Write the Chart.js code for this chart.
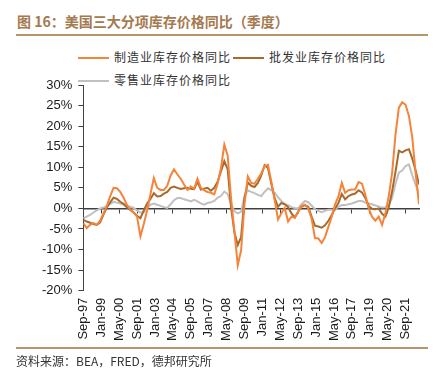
<!DOCTYPE html>
<html>
<head>
<meta charset="utf-8">
<script src="https://cdn.jsdelivr.net/npm/chart.js@4.4.1/dist/chart.umd.min.js"></script>
<style>
    body { margin: 0; background: #fff; width: 442px; height: 382px; position: relative; overflow: hidden; font-family: "Noto Sans CJK SC", sans-serif; }
    .title { position: absolute; left: 17px; top: 12px; font-size: 14px; line-height: 19px; font-weight: bold; color: #a47a50; white-space: nowrap; }
    .rule { position: absolute; left: 16px; width: 412px; height: 2px; background: #b8946e; }
    .legend-item { position: absolute; height: 16px; font-size: 12px; line-height: 16px; color: #333; letter-spacing: 1px; white-space: nowrap; }
    .legend-item span { display: inline-block; width: 31px; height: 2px; vertical-align: middle; margin-right: 5px; position: relative; top: -1px; }
    .source { position: absolute; left: 16px; top: 353px; font-size: 12px; line-height: 16px; color: #333; white-space: nowrap; }
    #chart-wrap { position: absolute; left: 0; top: 40px; width: 442px; height: 308px; }
</style>
</head>
<body>
<div class="title">图 16：美国三大分项库存价格同比（季度）</div>
<div class="rule" style="top:34px"></div>

<div class="legend-item" style="left:78px; top:49px"><span style="background:#f5843a"></span>制造业库存价格同比</div>
<div class="legend-item" style="left:233px; top:49px"><span style="background:#a8692c"></span>批发业库存价格同比</div>
<div class="legend-item" style="left:78px; top:72px"><span style="background:#c0c0c0"></span>零售业库存价格同比</div>

<div id="chart-wrap"><canvas id="inv-chart" width="442" height="308"></canvas></div>

<div class="rule" style="top:347px"></div>
<div class="source">资料来源：BEA，FRED，德邦研究所</div>

<script>
// quarterly, starting Sep-97 (Q3 1997), one value per quarter
const manufacturing = [
    -3.6, -4.8, -4.0, -3.6, -4.0, -3.0, -1.2, 0.6, 3.0, 5.0,
    4.9, 4.0, 2.6, 0.8, -0.3, -1.0, -2.0, -6.8, -3.8, -0.5,
    3.5, 7.4, 5.0, 4.5, 4.5, 5.5, 8.0, 9.5, 8.3, 7.2,
    5.8, 4.5, 5.3, 4.8, 7.2, 5.0, 4.4, 4.0, 3.8, 3.4,
    6.0, 9.8, 15.5, 12.8, 2.5, -5.5, -13.8, -10.2, 1.0, 7.8,
    6.2, 6.0, 7.2, 8.5, 10.3, 10.6, 6.5, 2.0, -2.7, -1.2,
    0.1, -3.2, -2.0, -2.3, -0.8, 0.6, 0.9, 0.0, -2.5, -7.2,
    -7.3, -8.4, -7.0, -4.5, -2.0, 1.0, 2.9, 6.2, 3.8, 4.4,
    4.6, 4.6, 6.4, 6.0, 3.4, 0.0, -2.0, -3.0, -2.0, -4.0,
    -1.2, 3.0, 8.7, 18.0, 24.5, 25.8, 25.2, 22.5, 17.2, 8.5,
    1.0
];
const wholesale = [
    -2.8, -3.2, -3.5, -3.8, -4.0, -3.4, -1.5, 0.2, 1.5, 2.6,
    2.3, 1.6, 1.1, 0.2, -0.4, -1.0, -1.8, -2.4, -0.5, 1.2,
    2.3, 3.7, 2.9, 3.0, 3.6, 4.0, 5.0, 5.3, 5.0, 4.7,
    4.9, 5.0, 4.8, 4.7, 6.5, 4.6, 4.8, 5.0, 4.3, 5.0,
    6.5, 9.0, 11.5, 9.5, 0.3, -5.8, -8.9, -7.0, 2.5, 6.3,
    5.5, 5.2, 6.2, 8.0, 10.5, 9.8, 6.0, 2.5, 0.4, 1.3,
    1.0, 0.3, -1.2, -2.2, -0.8, 0.4, 0.8, 0.4, -2.0, -4.2,
    -4.4, -4.7, -4.1, -3.0, -1.6, 0.0, 1.3, 3.5, 2.2, 3.0,
    3.4, 3.6, 4.4, 3.9, 2.5, 0.6, -0.1, -0.2, 0.0, -1.3,
    -2.0, 0.3, 4.2, 8.9, 14.0, 13.6, 14.1, 14.4, 12.1, 9.2,
    5.8
];
const retail = [
    -2.4, -2.0, -1.6, -1.0, -0.5, 0.0, 0.2, 0.6, 1.1, 1.6,
    1.4, 1.2, 0.9, 0.6, 0.4, 0.1, -0.5, -1.0, -1.0, 0.1,
    0.9, 1.2, 0.9, 0.6, 0.3, 0.1, 1.0, 2.0, 2.5, 2.5,
    2.2, 2.0, 1.7, 2.1, 1.7, 1.2, 0.9, 1.3, 1.5, 1.8,
    2.6, 3.0, 4.1, 3.5, 1.0, -0.7, -1.2, -0.8, 3.0, 4.4,
    4.0, 3.7, 3.3, 3.0, 4.0, 4.9, 4.4, 3.8, 2.7, 1.8,
    1.1, 0.8, 0.3, 0.1, 0.0, 1.0, 1.8, 1.5, 0.7, -0.2,
    -0.6, -0.9, -0.6, -0.3, -0.3, -0.3, 0.4, 0.8, 0.8, 1.0,
    1.2, 1.5, 1.8, 1.8, 1.4, 1.2, 1.0, 0.7, 0.5, 0.2,
    0.3, 0.8, 2.6, 6.0, 8.7, 9.2, 10.3, 10.7, 8.0, 5.7,
    3.6
];

// x tick labels, one every 16 months from Sep-97
const tickLabels = ['Sep-97', 'Jan-99', 'May-00', 'Sep-01', 'Jan-03', 'May-04', 'Sep-05', 'Jan-07', 'May-08',
    'Sep-09', 'Jan-11', 'May-12', 'Sep-13', 'Jan-15', 'May-16', 'Sep-17', 'Jan-19', 'May-20', 'Sep-21'];
const TICK_STEP = 16;   // months between labels
const LAST_MONTH = 300; // Sep-22, months after Sep-97

const tickFont = { family: "'Liberation Sans', Arial, sans-serif", size: 13 };
const axisColor = '#404040';

function toPoints(values) {
    return values.map((v, i) => ({ x: i * 3, y: v }));
}

function setMonthTicks(scale) {
    scale.ticks = tickLabels.map((_, i) => ({ value: i * TICK_STEP }));
}

new Chart(document.getElementById('inv-chart').getContext('2d'), {
    type: 'line',
    data: {
        datasets: [
            { label: '制造业库存价格同比', data: toPoints(manufacturing), borderColor: '#f5843a', borderWidth: 2 },
            { label: '批发业库存价格同比', data: toPoints(wholesale), borderColor: '#a8692c', borderWidth: 2 },
            { label: '零售业库存价格同比', data: toPoints(retail), borderColor: '#c0c0c0', borderWidth: 2 }
        ]
    },
    options: {
        responsive: false,
        animation: false,
        elements: { point: { radius: 0 }, line: { tension: 0 } },
        layout: { padding: { left: 36, right: 23, top: 45, bottom: 0 } },
        plugins: { legend: { display: false }, tooltip: { enabled: false } },
        scales: {
            x: {
                type: 'linear', min: 0, max: LAST_MONTH,
                afterBuildTicks: setMonthTicks,
                grid: { display: false, drawTicks: false },
                border: { display: false },
                ticks: {
                    autoSkip: false, minRotation: 90, maxRotation: 90,
                    padding: 7, font: tickFont, color: '#1a1a1a',
                    callback: v => tickLabels[Math.round(v / TICK_STEP)]
                }
            },
            // zero line with small tick marks
            x2: {
                type: 'linear', min: 0, max: LAST_MONTH,
                position: { y: 0 },
                afterBuildTicks: setMonthTicks,
                grid: { display: true, drawOnChartArea: false, drawTicks: true, tickLength: 4, color: axisColor },
                border: { display: true, color: axisColor, width: 1.5 },
                ticks: { display: false }
            },
            y: {
                min: -20, max: 30,
                grid: { display: true, drawOnChartArea: false, drawTicks: true, tickLength: 5, color: axisColor },
                border: { display: true, color: axisColor, width: 1 },
                ticks: { stepSize: 5, padding: 6, font: tickFont, color: '#1a1a1a', callback: v => v + '%' }
            }
        }
    }
});
</script>
</body>
</html>
